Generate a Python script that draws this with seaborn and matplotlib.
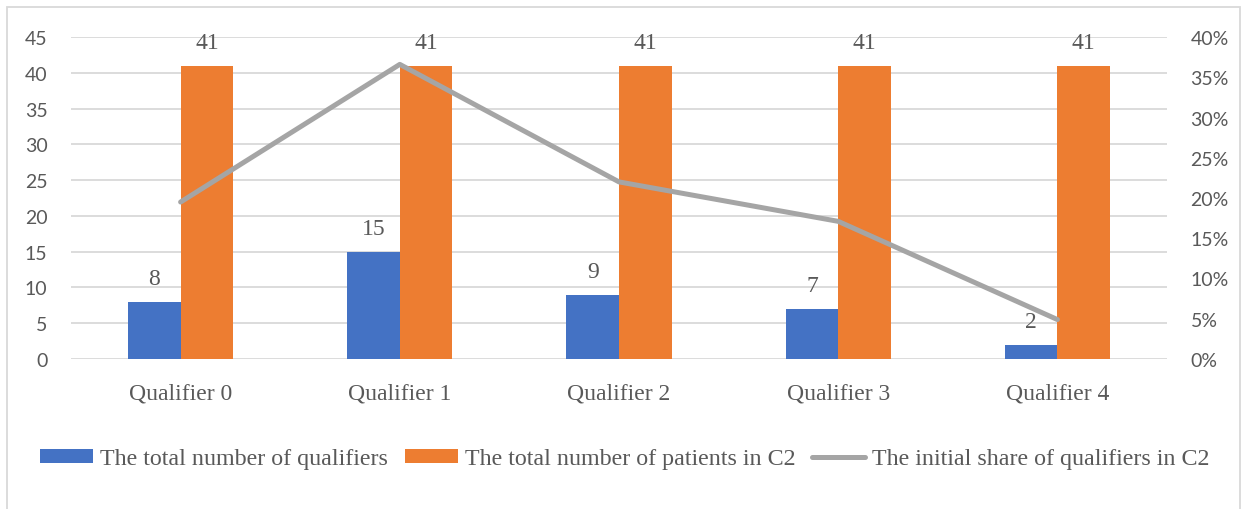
import numpy as np
import pandas as pd
import matplotlib
matplotlib.use("Agg")
import matplotlib.pyplot as plt
from matplotlib.patches import Rectangle
from matplotlib.lines import Line2D
from matplotlib.ticker import PercentFormatter
import seaborn as sns

categories = ["Qualifier 0", "Qualifier 1", "Qualifier 2", "Qualifier 3", "Qualifier 4"]
qualifiers = [8, 15, 9, 7, 2]
patients_c2 = [41, 41, 41, 41, 41]
initial_share = [0.195, 0.366, 0.220, 0.171, 0.049]

series_names = [
    "The total number of qualifiers",
    "The total number of patients in C2",
    "The initial share of qualifiers in C2",
]

df = pd.DataFrame({
    "category": categories * 2,
    "series": [series_names[0]] * len(categories) + [series_names[1]] * len(categories),
    "value": qualifiers + patients_c2,
})

sns.set_theme(style="white")
TEXT = "#595959"
GRID = "#D9D9D9"
SERIF = "Liberation Serif"
SANS = "Lato"

fig = plt.figure(figsize=(12.5, 5.1), dpi=100)
ax = fig.add_axes([71 / 1250, 1 - 360 / 510, (1167 - 71) / 1250, (360 - 38) / 510])

sns.barplot(data=df, x="category", y="value", hue="series",
            palette=["#4472C4", "#ED7D31"], width=0.48, gap=0,
            saturation=1, ax=ax, zorder=2, linewidth=0)

ax.set_ylim(0, 45)
ax.set_yticks(np.arange(0, 46, 5))
ax.set_xlim(-0.5, len(categories) - 0.5)
ax.yaxis.grid(True, color=GRID, linewidth=1.3, zorder=0)
ax.set_axisbelow(True)
for s in ax.spines.values():
    s.set_visible(False)
ax.set_xlabel("")
ax.set_ylabel("")
ax.tick_params(axis="y", length=0, pad=17, labelsize=14, labelcolor=TEXT)
ax.tick_params(axis="x", length=0, pad=17, labelsize=17, labelcolor=TEXT)
for lab in ax.get_yticklabels():
    lab.set_family(SANS)
for lab in ax.get_xticklabels():
    lab.set_family(SERIF)

# value labels above each bar
for container in ax.containers:
    ax.bar_label(container, fmt="%g", padding=9, fontsize=17,
                 color=TEXT, family=SERIF)

handles, labels = ax.get_legend_handles_labels()
if ax.get_legend() is not None:
    ax.get_legend().remove()

# secondary axis with the share line
ax2 = ax.twinx()
sns.lineplot(x=np.arange(len(categories)), y=initial_share, ax=ax2,
             color="#A5A5A5", linewidth=3.6, solid_capstyle="round",
             solid_joinstyle="round", zorder=3)
ax2.set_ylim(0, 0.40)
ax2.set_yticks(np.arange(0, 0.401, 0.05))
ax2.yaxis.set_major_formatter(PercentFormatter(1.0, decimals=0))
for s in ax2.spines.values():
    s.set_visible(False)
ax2.grid(False)
ax2.set_ylabel("")
ax2.tick_params(axis="y", length=0, pad=17, labelsize=14, labelcolor=TEXT)
for lab in ax2.get_yticklabels():
    lab.set_family(SANS)
if ax2.get_legend() is not None:
    ax2.get_legend().remove()

line_handle = Line2D([0], [0], color="#A5A5A5", linewidth=3.6, solid_capstyle="round")
leg = fig.legend(handles + [line_handle], labels + [series_names[2]],
                 loc="center", bbox_to_anchor=(0.5, 1 - 460 / 510), ncol=3,
                 frameon=False, prop={"family": SERIF, "size": 17.3},
                 handlelength=2.2, handleheight=0.5, handletextpad=0.3,
                 columnspacing=0.7, labelcolor=TEXT)

# chart area border
fig.add_artist(Rectangle((7 / 1250, -0.02), (1240 - 7) / 1250, 1 - 8 / 510 + 0.02,
                         transform=fig.transFigure, fill=False,
                         edgecolor=GRID, linewidth=1.3))

fig.savefig("out.png", dpi=100)
